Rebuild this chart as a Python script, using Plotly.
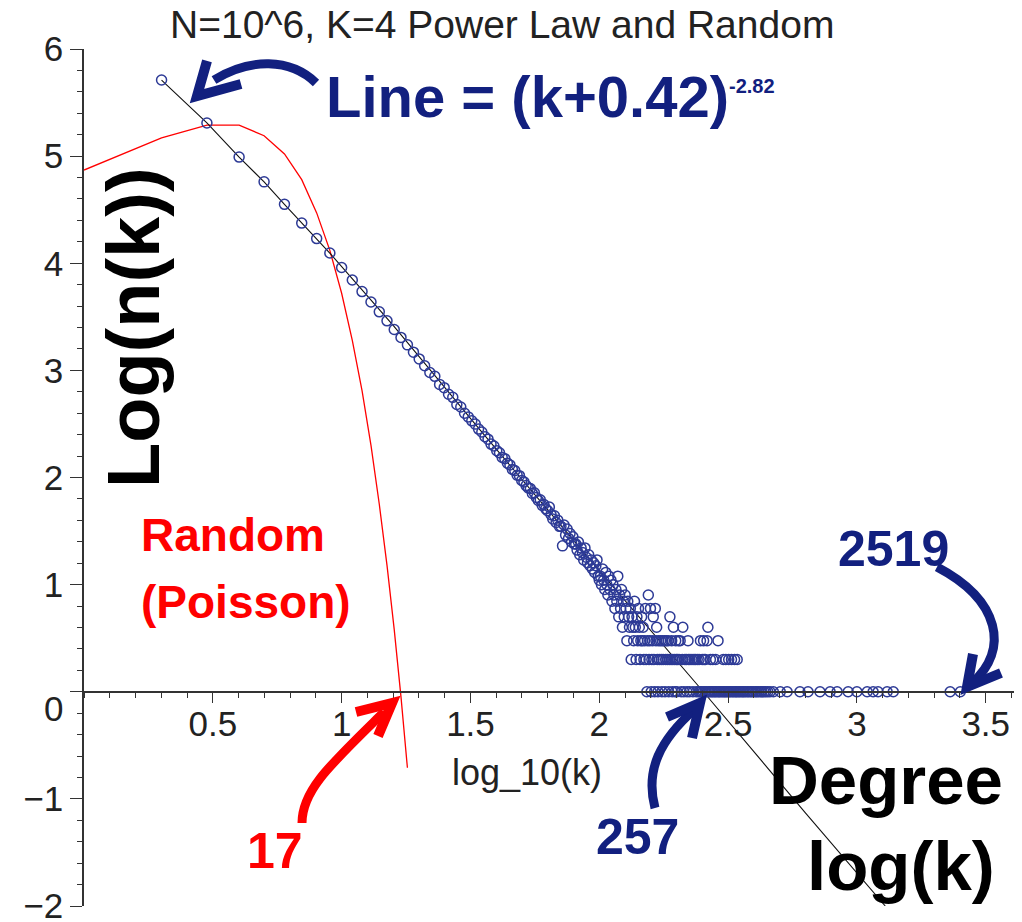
import numpy as np
import plotly.graph_objects as go

# ---------------- data ----------------
# Random (Poisson) network: degree k and log10 of node count
poisson_k = list(range(1, 19))
poisson_logn = [4.87, 5.17, 5.29, 5.29, 5.19, 5.02, 4.78, 4.47, 4.12, 3.72,
                3.28, 2.81, 2.30, 1.75, 1.18, 0.58, -0.05, -0.71]

# fitted line (k+0.42)^-2.82
line_logk = [0.301, 0.477, 0.602, 0.699, 0.778, 0.845, 0.903, 0.954, 1.2, 1.537, 2.0, 2.404, 2.8, 3.11]
line_logn = [5.71, 5.31, 4.99, 4.76, 4.55, 4.375, 4.23, 4.095, 3.42, 2.444, 1.13, 0.0, -1.13, -2.0]

# power-law network: degrees 2..150, one count each
main_k = list(range(2, 151))
main_n = [513000, 204000, 98000, 57500, 35500, 23700, 17000, 12450, 9120,
          6970, 5440, 4350, 3520, 2900, 2410, 2030, 1730, 1480, 1280,
          1105, 955, 880, 740, 690, 598, 560, 480, 455, 398,
          368, 338, 315, 283, 266, 240, 228, 205, 197, 178,
          170, 154, 150, 136, 131, 119, 116, 105, 104, 94,
          91, 84, 80, 79, 71, 72, 65, 61, 62, 55,
          56, 51, 49, 53, 45, 41, 44, 38, 40, 35,
          35, 23, 36, 29, 33, 27, 30, 25, 28, 24,
          24, 21, 25, 19, 22, 20, 17, 22, 18, 16,
          19, 15, 17, 14, 16, 13, 15, 17, 12, 11,
          12, 10, 14, 11, 9, 13, 10, 8, 12, 9,
          11, 7, 10, 8, 6, 9, 7, 12, 5, 8,
          6, 9, 4, 7, 5, 8, 6, 3, 7, 5,
          4, 6, 2, 5, 4, 3, 7, 4, 2, 5,
          3, 6, 4, 2, 3, 5, 3, 4, 2, 3]

# tail (k > 150): degrees observed with each small count
tail_n8 = [155]
tail_n6 = [151, 158, 165]
tail_n5 = [162, 188]
tail_n4 = [167, 194, 211, 264]
tail_n3 = [154, 157, 161, 166, 170, 173, 176, 179, 182, 185, 191, 198, 203, 206,
           221, 247, 254, 262, 289]
tail_n2 = [152, 156, 160, 163, 168, 171, 174, 177, 181, 184, 187, 190, 193, 196,
           199, 201, 204, 210, 215, 218, 222, 225, 229, 233, 236, 240, 244, 251,
           255, 258, 270, 276, 283, 303, 310, 318, 326, 335, 343]
tail_n1 = [153, 159, 164, 169, 175, 180, 186, 192, 197, 200, 208, 213, 219, 224,
           231, 238, 243, 246, 249, 253, 257, 260, 265, 268, 272, 275, 279, 282,
           286, 290, 293, 297, 301, 305, 308, 312, 316, 320, 324, 329, 333, 338,
           341, 346, 350, 355, 360, 364, 369, 375, 380, 386, 391, 397, 404, 409,
           415, 422, 428, 436, 443, 451, 460, 474, 504, 536, 601, 646, 719, 787,
           838, 925, 1000, 1096, 1156, 1208, 1310, 1384, 2301, 2519]

y_ticks = [-2, -1, 0, 1, 2, 3, 4, 5, 6]
y_ticktext = ["\u22122", "\u22121", "", "1", "2", "3", "4", "5", "6"]
x_ticks = [0.5, 1, 1.5, 2, 2.5, 3, 3.5]
x_ticktext = ["0.5", "1", "1.5", "2", "2.5", "3", "3.5"]

# ---------------- assemble ----------------
deg = list(main_k)
cnt = list(main_n)
for n, ks in [(8, tail_n8), (6, tail_n6), (5, tail_n5), (4, tail_n4),
              (3, tail_n3), (2, tail_n2), (1, tail_n1)]:
    deg += ks
    cnt += [n] * len(ks)
pl_x = np.log10(np.array(deg, dtype=float))
pl_y = np.log10(np.array(cnt, dtype=float))

NAVY = "#12207f"
MARK = "#2d3a96"
RED = "#ff0000"
FONT = "Liberation Sans, Arial, sans-serif"

OFF = 8                      # page body margin
W, H = 1022 - OFF, 922 - OFF
L, R, T, B = 84 - OFF, 2, 49 - OFF, 16
PW, PH = W - L - R, H - T - B


def px(x):
    return (x - OFF - L) / PW


def py(y):
    return (H - B - (y - OFF)) / PH


def path(pts, cubic=True):
    s = "M %.5f %.5f" % (px(pts[0][0]), py(pts[0][1]))
    if cubic:
        s += " C"
        for p in pts[1:]:
            s += " %.5f %.5f" % (px(p[0]), py(p[1]))
    else:
        for p in pts[1:]:
            s += " L %.5f %.5f" % (px(p[0]), py(p[1]))
    return s


fig = go.Figure()
fig.add_trace(go.Scatter(x=np.log10(np.array(poisson_k, dtype=float)), y=poisson_logn,
                         mode="lines", line=dict(color=RED, width=1.3), showlegend=False))
fig.add_trace(go.Scatter(x=line_logk, y=line_logn, mode="lines",
                         line=dict(color="#111111", width=1.1), showlegend=False))
fig.add_trace(go.Scatter(x=pl_x, y=pl_y, mode="markers",
                         marker=dict(symbol="circle-open", size=10, color=MARK,
                                     line=dict(width=1.5, color=MARK)),
                         showlegend=False))

shapes = []
arrows = [
    (NAVY, [(316, 83), (290, 58), (250, 58), (214, 80)], [(207, 61), (197, 96), (241, 84)]),
    (RED, [(302, 823), (302, 790), (330, 765), (384, 712)], [(356, 712), (392, 703), (378, 736)]),
    (NAVY, [(655, 808), (645, 770), (660, 740), (695, 709)], [(667, 717), (700, 703), (692, 738)]),
    (NAVY, [(937, 567), (1000, 600), (1010, 650), (972, 683)], [(973, 654), (967, 687), (1001, 673)]),
]
for col, shaft, head in arrows:
    shapes.append(dict(type="path", xref="paper", yref="paper", path=path(shaft, True),
                       line=dict(color=col, width=9)))
    shapes.append(dict(type="path", xref="paper", yref="paper", path=path(head, False),
                       line=dict(color=col, width=10)))

ann = []


def text(t, x, y, size, color, bold=False, xanchor="center", angle=0):
    ann.append(dict(text=("<b>%s</b>" % t) if bold else t, x=px(x), y=py(y),
                    xref="paper", yref="paper", showarrow=False, xanchor=xanchor,
                    yanchor="middle", textangle=angle, borderpad=0,
                    font=dict(family=FONT, size=size, color=color)))


text("N=10^6, K=4 Power Law and Random", 502, 25, 39, "#222222")
text("Log(n(k))", 134, 328, 74, "#000000", bold=True, angle=-90)
text("log_10(k)", 527, 772, 36, "#222222")
text("Line = (k+0.42)", 730, 97, 58, NAVY, bold=True, xanchor="right")
text("-2.82", 728, 86, 20, NAVY, bold=True, xanchor="left")
text("Random", 140, 535, 46, RED, bold=True, xanchor="left")
text("(Poisson)", 140, 602, 46, RED, bold=True, xanchor="left")
text("17", 275, 851, 50, RED, bold=True)
text("257", 637, 837, 50, NAVY, bold=True)
text("2519", 893, 549, 50, NAVY, bold=True)
text("Degree", 886, 780, 69, "#000000", bold=True)
text("log(k)", 901, 866, 69, "#000000", bold=True)
text("0", 53, 708, 35, "#222222")

fig.update_layout(
    width=W, height=H, margin=dict(l=L, r=R, t=T, b=B, pad=0, autoexpand=False),
    paper_bgcolor="white", plot_bgcolor="white",
    shapes=shapes, annotations=ann,
    font=dict(family=FONT, color="#222222"),
    xaxis=dict(range=[0, 3.633], anchor="free", position=0.25, showgrid=False,
               zeroline=False, showline=True, linecolor="#333333", linewidth=1.5,
               automargin=False, ticklabelstandoff=-9, ticklabeloverflow="allow",
               tickmode="array", tickvals=x_ticks, ticktext=x_ticktext,
               ticks="outside", ticklen=10, tickwidth=1.3, tickcolor="#333333",
               tickfont=dict(size=35, color="#222222"),
               minor=dict(tick0=0, dtick=0.1, ticks="outside", ticklen=5,
                          tickwidth=1.3, tickcolor="#333333")),
    yaxis=dict(range=[-2, 6], domain=[0, 1], showgrid=False, zeroline=False,
               showline=True, linecolor="#333333", linewidth=1.5,
               automargin=False, ticklabeloverflow="allow",
               tickmode="array", tickvals=y_ticks, ticktext=y_ticktext,
               ticks="outside", ticklen=12, tickwidth=1.3, tickcolor="#333333",
               tickfont=dict(size=35, color="#222222"),
               minor=dict(tick0=0, dtick=0.2, ticks="outside", ticklen=5,
                          tickwidth=1.3, tickcolor="#333333")),
)

fig.write_html("out.html")
